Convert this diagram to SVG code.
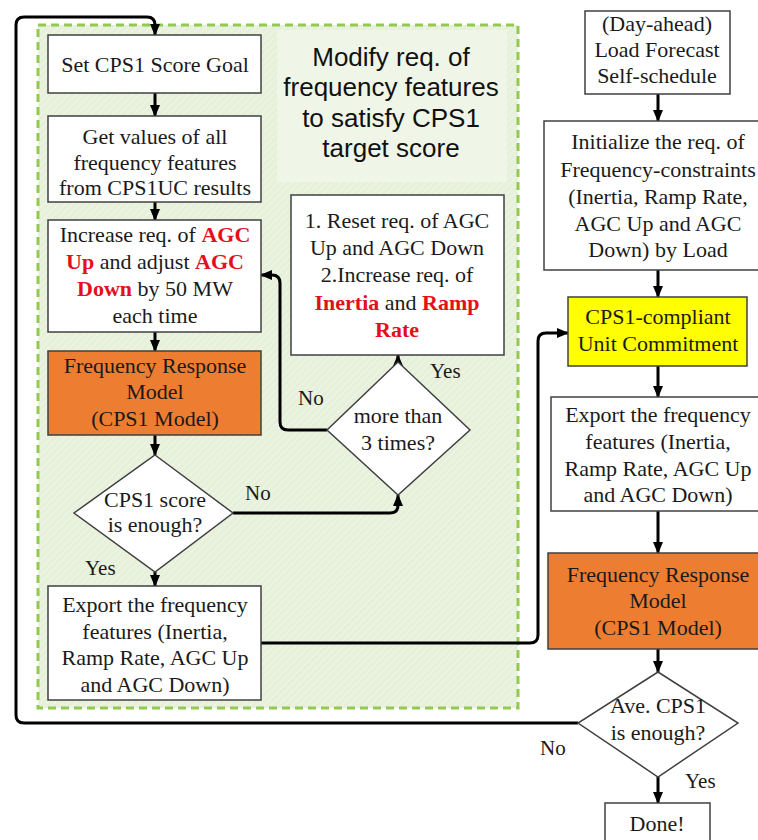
<svg xmlns="http://www.w3.org/2000/svg" width="758" height="840" viewBox="0 0 758 840">
<defs>
<pattern id="hatch" width="5" height="5" patternUnits="userSpaceOnUse" patternTransform="rotate(45)">
<rect width="5" height="5" fill="#e7f0da"/>
<line x1="0" y1="0" x2="0" y2="5" stroke="#f3f8ec" stroke-width="1.5"/>
</pattern>
<marker id="arr" markerUnits="userSpaceOnUse" markerWidth="12" markerHeight="12" viewBox="0 0 12 12" refX="11" refY="6" orient="auto">
<path d="M0,1 L12,6 L0,11 Z" fill="#000"/>
</marker>
<style>
.box{fill:#fff;stroke:#404040;stroke-width:1.5}
.org{fill:#ED7D31;stroke:#404040;stroke-width:1.5}
.yel{fill:#FFFF00;stroke:#404040;stroke-width:1.5}
.t{font-family:"Liberation Serif","Times New Roman",serif;font-size:22px;fill:#1a1a1a;text-anchor:middle}
.lbl{font-family:"Liberation Serif","Times New Roman",serif;font-size:21px;fill:#1a1a1a}
.r{fill:#e3101c;font-weight:bold}
.title{font-family:"Liberation Sans",Arial,sans-serif;font-size:26px;fill:#111;text-anchor:middle}
.c{fill:none;stroke:#000;stroke-width:3;stroke-linejoin:round}
</style>
</defs>
<rect width="758" height="840" fill="#fff"/>
<g id="region">
<rect x="38" y="25" width="480" height="683" fill="url(#hatch)" stroke="#92c94f" stroke-width="3" stroke-dasharray="8,5"/>
<rect x="277" y="30" width="230" height="152" fill="#eff6e8"/>
<text class="title" x="391" y="66">Modify req. of</text>
<text class="title" x="391" y="96">frequency features</text>
<text class="title" x="391" y="127">to satisfy CPS1</text>
<text class="title" x="391" y="157">target score</text>
</g>
<g id="connectors">
<path class="c" d="M578,723 H24 Q16,723 16,715 V25 Q16,17 24,17 H147 Q155,17 155,25 V35" marker-end="url(#arr)"/>
<path class="c" d="M155,93 V116" marker-end="url(#arr)"/>
<path class="c" d="M155,202 V220" marker-end="url(#arr)"/>
<path class="c" d="M155,332 V351" marker-end="url(#arr)"/>
<path class="c" d="M155,435 V455" marker-end="url(#arr)"/>
<path class="c" d="M155,572 V586" marker-end="url(#arr)"/>
<path class="c" d="M233,513 H390 Q398,513 398,505 V495" marker-end="url(#arr)"/>
<path class="c" d="M398,367 V355" marker-end="url(#arr)"/>
<path class="c" d="M327,430 H288 Q280,430 280,422 V283 Q280,275 272,275 H261" marker-end="url(#arr)"/>
<path class="c" d="M261,643 H530 Q538,643 538,635 V341 Q538,333 546,333 H568" marker-end="url(#arr)"/>
<path class="c" d="M658,94 V121" marker-end="url(#arr)"/>
<path class="c" d="M658,270 V297" marker-end="url(#arr)"/>
<path class="c" d="M658,366 V397" marker-end="url(#arr)"/>
<path class="c" d="M658,511 V553" marker-end="url(#arr)"/>
<path class="c" d="M658,649 V672" marker-end="url(#arr)"/>
<path class="c" d="M658,777 V803" marker-end="url(#arr)"/>
<text class="lbl" x="245" y="500">No</text>
<text class="lbl" x="85" y="575">Yes</text>
<text class="lbl" x="298" y="405">No</text>
<text class="lbl" x="430" y="378">Yes</text>
<text class="lbl" x="540" y="755">No</text>
<text class="lbl" x="685" y="788">Yes</text>
</g>
<g id="n1">
<rect class="box" x="48" y="35" width="213" height="58"/>
<text class="t" x="155" y="72">Set CPS1 Score Goal</text>
</g>
<g id="n2">
<rect class="box" x="48" y="116" width="213" height="86"/>
<text class="t" x="155" y="144">Get values of all</text>
<text class="t" x="155" y="170">frequency features</text>
<text class="t" x="155" y="195">from CPS1UC results</text>
</g>
<g id="n3">
<rect class="box" x="48" y="220" width="213" height="112"/>
<text class="t" x="155" y="242">Increase req. of <tspan class="r">AGC</tspan></text>
<text class="t" x="155" y="269"><tspan class="r">Up</tspan> and adjust <tspan class="r">AGC</tspan></text>
<text class="t" x="155" y="296"><tspan class="r">Down</tspan> by 50 MW</text>
<text class="t" x="155" y="323">each time</text>
</g>
<g id="n4">
<rect class="org" x="48" y="351" width="213" height="84"/>
<text class="t" x="155" y="373">Frequency Response</text>
<text class="t" x="155" y="399">Model</text>
<text class="t" x="155" y="426">(CPS1 Model)</text>
</g>
<g id="n5">
<polygon class="box" points="155,455 233,513 155,572 74,513"/>
<text class="t" x="155" y="507">CPS1 score</text>
<text class="t" x="155" y="532">is enough?</text>
</g>
<g id="n6">
<rect class="box" x="48" y="586" width="213" height="114"/>
<text class="t" x="155" y="612">Export the frequency</text>
<text class="t" x="155" y="639">features (Inertia,</text>
<text class="t" x="155" y="665">Ramp Rate, AGC Up</text>
<text class="t" x="155" y="692">and AGC Down)</text>
</g>
<g id="n7">
<rect class="box" x="291" y="195" width="213" height="160"/>
<text class="t" x="397" y="228">1. Reset req. of AGC</text>
<text class="t" x="397" y="255">Up and AGC Down</text>
<text class="t" x="397" y="282">2.Increase req. of</text>
<text class="t" x="397" y="310"><tspan class="r">Inertia</tspan> and <tspan class="r">Ramp</tspan></text>
<text class="t" x="397" y="337"><tspan class="r">Rate</tspan></text>
</g>
<g id="n8">
<polygon class="box" points="398,362 470,430 398,495 327,430"/>
<text class="t" x="398" y="423">more than</text>
<text class="t" x="398" y="450">3 times?</text>
</g>
<g id="n9">
<rect class="box" x="585" y="11" width="145" height="83"/>
<text class="t" x="657" y="31">(Day-ahead)</text>
<text class="t" x="657" y="57">Load Forecast</text>
<text class="t" x="657" y="83">Self-schedule</text>
</g>
<g id="n10">
<rect class="box" x="544" y="121" width="228" height="149"/>
<text class="t" x="658" y="149">Initialize the req. of</text>
<text class="t" x="658" y="177">Frequency-constraints</text>
<text class="t" x="658" y="204">(Inertia, Ramp Rate,</text>
<text class="t" x="658" y="231">AGC Up and AGC</text>
<text class="t" x="658" y="257">Down) by Load</text>
</g>
<g id="n11">
<rect class="yel" x="568" y="297" width="179" height="69"/>
<text class="t" x="658" y="324">CPS1-compliant</text>
<text class="t" x="658" y="351">Unit Commitment</text>
</g>
<g id="n12">
<rect class="box" x="551" y="397" width="214" height="114"/>
<text class="t" x="658" y="422">Export the frequency</text>
<text class="t" x="658" y="449">features (Inertia,</text>
<text class="t" x="658" y="476">Ramp Rate, AGC Up</text>
<text class="t" x="658" y="502">and AGC Down)</text>
</g>
<g id="n13">
<rect class="org" x="548" y="553" width="220" height="96"/>
<text class="t" x="658" y="582">Frequency Response</text>
<text class="t" x="658" y="608">Model</text>
<text class="t" x="658" y="635">(CPS1 Model)</text>
</g>
<g id="n14">
<polygon class="box" points="658,672 738,723 658,777 578,723"/>
<text class="t" x="658" y="713">Ave. CPS1</text>
<text class="t" x="658" y="740">is enough?</text>
</g>
<g id="n15">
<rect class="box" x="605" y="803" width="105" height="50"/>
<text class="t" x="657" y="831">Done!</text>
</g>
</svg>
